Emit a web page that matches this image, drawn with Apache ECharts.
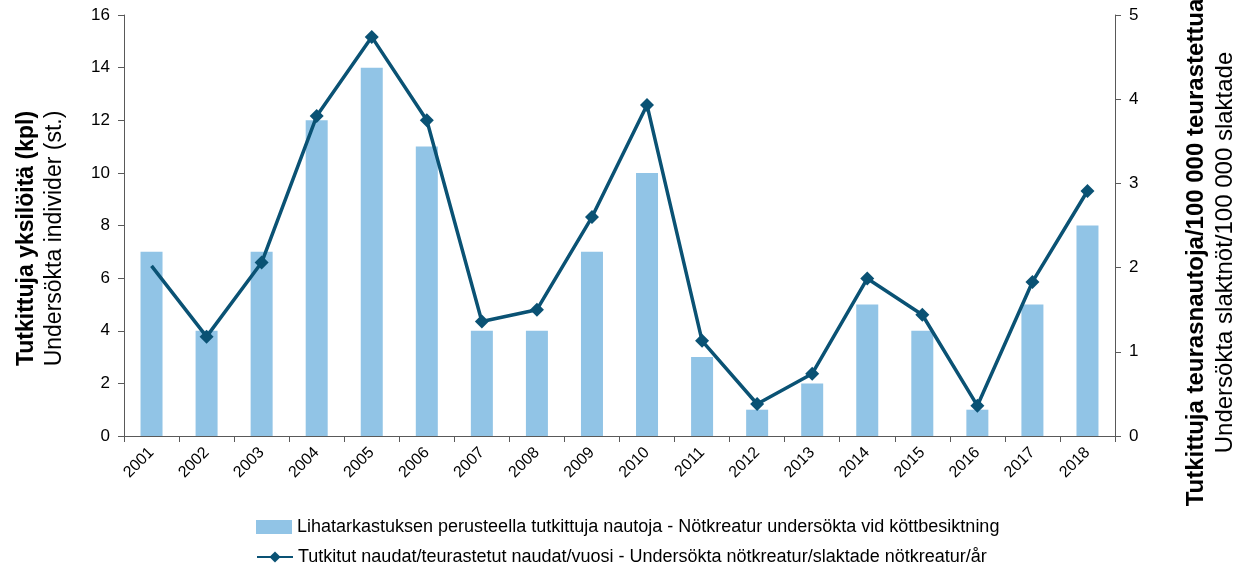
<!DOCTYPE html>
<html><head><meta charset="utf-8">
<script src="https://cdn.jsdelivr.net/npm/echarts@6/dist/echarts.min.js"></script>
<style>html,body{margin:0;padding:0;background:#fff}#c{width:1243px;height:568px}</style>
</head><body><div id="c"></div>
<script>
const years = ['2001','2002','2003','2004','2005','2006','2007','2008','2009','2010','2011','2012','2013','2014','2015','2016','2017','2018'];
const examined = [7,4,7,12,14,11,4,4,7,10,3,1,2,5,4,1,5,8];
const perSlaughtered = [2.02,1.18,2.06,3.80,4.74,3.75,1.36,1.50,2.60,3.93,1.13,0.38,0.74,1.87,1.44,0.36,1.83,2.91];
const leftTicks = [0,2,4,6,8,10,12,14,16];
const rightTicks = [0,1,2,3,4,5];
const barName = 'Lihatarkastuksen perusteella tutkittuja nautoja - Nötkreatur undersökta vid köttbesiktning';
const lineName = 'Tutkitut naudat/teurastetut naudat/vuosi - Undersökta nötkreatur/slaktade nötkreatur/år';

const FONT = 'Liberation Sans';
const chart = echarts.init(document.getElementById('c'), null, {renderer:'canvas'});
const axisLineStyle = {color:'#595959', width:1};
const legendBase = {orient:'horizontal', left:251, itemWidth:36, itemHeight:14,
  textStyle:{fontFamily:FONT, fontSize:18, color:'#000'}};
chart.setOption({
  animation:false,
  textStyle:{fontFamily:FONT},
  grid:{left:124, right:128, top:15, bottom:132, containLabel:false, outerBoundsMode:'none'},
  legend:[
    Object.assign({}, legendBase, {top:513, data:[{name:barName, icon:'rect'}]}),
    Object.assign({}, legendBase, {top:543, data:[{name:lineName}]})
  ],
  xAxis:{
    type:'category', data:years, boundaryGap:true,
    axisLine:{lineStyle:axisLineStyle},
    axisTick:{show:true, alignWithLabel:false, length:6, lineStyle:axisLineStyle},
    axisLabel:{rotate:45, fontSize:16, color:'#000', margin:14, fontFamily:FONT}
  },
  yAxis:[{
    type:'value', min:leftTicks[0], max:leftTicks[leftTicks.length-1], interval:2,
    splitLine:{show:false},
    axisLine:{show:true, lineStyle:axisLineStyle},
    axisTick:{show:true, length:6, lineStyle:axisLineStyle},
    axisLabel:{fontSize:17, color:'#000', margin:14, fontFamily:FONT},
    name:'{b|Tutkittuja yksilöitä (kpl)}\n{n|Undersökta individer (st.)}',
    nameLocation:'middle', nameRotate:90, nameGap:55,
    nameTextStyle:{padding:[0,26,0,0], rich:{
      b:{fontSize:23, fontWeight:'bold', color:'#000', fontFamily:FONT, lineHeight:28},
      n:{fontSize:23, color:'#000', fontFamily:FONT, lineHeight:28}
    }}
  },{
    type:'value', position:'right', min:rightTicks[0], max:rightTicks[rightTicks.length-1], interval:1,
    splitLine:{show:false},
    axisLine:{show:true, lineStyle:axisLineStyle},
    axisTick:{show:true, length:6, lineStyle:axisLineStyle},
    axisLabel:{fontSize:17, color:'#000', margin:14, fontFamily:FONT},
    name:'{b|Tutkittuja teurasnautoja/100 000 teurastettua}\n{n|Undersökta slaktnöt/100 000 slaktade}',
    nameLocation:'middle', nameRotate:90, nameGap:67,
    nameTextStyle:{padding:[0,54,0,0], rich:{
      b:{fontSize:24, fontWeight:'bold', color:'#000', fontFamily:FONT, lineHeight:29},
      n:{fontSize:24, color:'#000', fontFamily:FONT, lineHeight:29}
    }}
  }],
  series:[{
    name:barName, type:'bar', yAxisIndex:0, data:examined, barWidth:22,
    itemStyle:{color:'#91C4E6'}
  },{
    name:lineName, type:'line', yAxisIndex:1,
    data:perSlaughtered.map((v,i)=> i===0 ? {value:v, symbol:'none'} : v),
    symbol:'diamond', symbolSize:14, showAllSymbol:true,
    lineStyle:{color:'#0A5274', width:3.5},
    itemStyle:{color:'#0A5274'}
  }]
});
</script></body></html>
